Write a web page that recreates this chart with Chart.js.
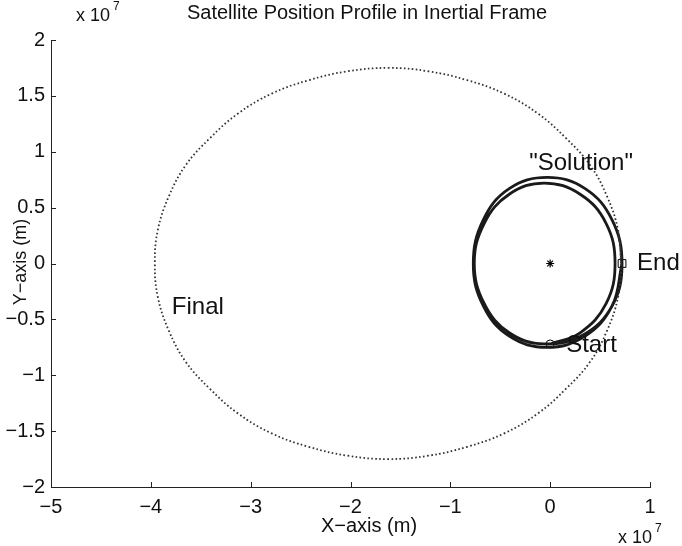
<!DOCTYPE html>
<html>
<head>
<meta charset="utf-8">
<script src="https://cdn.jsdelivr.net/npm/chart.js@4/dist/chart.umd.min.js"></script>
<style>
  html, body { margin: 0; padding: 0; background: #fff; }
  canvas { display: block; }
</style>
</head>
<body>
<canvas id="orbit" width="682" height="546"></canvas>
<script>
// All positions are in units of 10^7 m (inertial frame, Earth at origin).

// Target ("Final") orbit, traced once round plus one overlapping step
const finalX = [0.71, 0.68, 0.57, 0.40, 0.16, -0.12, -0.46, -0.83, -1.22, -1.62,
                -2.03, -2.42, -2.79, -3.13, -3.41, -3.65, -3.82, -3.93, -3.96,
                -3.93, -3.82, -3.65, -3.41, -3.13, -2.79, -2.42, -2.03, -1.62,
                -1.22, -0.83, -0.46, -0.12, 0.16, 0.40, 0.57, 0.68, 0.71, 0.68];
const finalY = [0.00, 0.30, 0.60, 0.88, 1.12, 1.34, 1.52, 1.64, 1.72, 1.75,
                1.72, 1.64, 1.52, 1.34, 1.12, 0.88, 0.60, 0.30, 0.00,
                -0.30, -0.60, -0.88, -1.12, -1.34, -1.52, -1.64, -1.72, -1.75,
                -1.72, -1.64, -1.52, -1.34, -1.12, -0.88, -0.60, -0.30, 0.00, 0.30];

// Computed "Solution" trajectory, from Start to End
const solX = [0.00, 0.30, 0.56, 0.65, 0.56, 0.30, -0.06, -0.41, -0.66, -0.76,
              -0.66, -0.41, -0.06, 0.33, 0.62, 0.72, 0.62, 0.35, -0.03, -0.41,
              -0.67, -0.77, -0.67, -0.41, -0.03, 0.35, 0.62, 0.72];
const solY = [-0.72, -0.62, -0.36, 0.00, 0.36, 0.62, 0.72, 0.62, 0.36, 0.00,
              -0.36, -0.62, -0.72, -0.64, -0.38, 0.00, 0.39, 0.67, 0.77, 0.67,
              0.39, 0.00, -0.38, -0.65, -0.75, -0.65, -0.38, 0.00];

const startPoint = [0.00, -0.72];
const endPoint = [0.72, 0.00];
const earthPoint = [0.00, 0.00];

const xTicks = [-5, -4, -3, -2, -1, 0, 1];
const yTicks = [-2, -1.5, -1, -0.5, 0, 0.5, 1, 1.5, 2];

const toPoints = (xs, ys) => xs.map((v, i) => ({ x: v, y: ys[i] }));
const fmt = v => (v < 0 ? '\u2212' : '') + String(Math.abs(v));

const FONT = '"Liberation Sans", Arial, Helvetica, sans-serif';

// Text annotations placed at data coordinates
const notes = [
  { text: '"Solution"', x: -0.21, y: 0.895 },
  { text: 'End', x: 0.87, y: 0.00 },
  { text: 'Start', x: 0.16, y: -0.73 },
  { text: 'Final', x: -3.79, y: -0.39 }
];

const decorations = {
  id: 'decorations',
  afterDraw(chart) {
    const { ctx, chartArea: a, scales: { x, y } } = chart;
    ctx.save();
    // inward tick marks
    ctx.strokeStyle = '#222';
    ctx.lineWidth = 1;
    ctx.beginPath();
    xTicks.forEach(v => {
      const px = Math.round(x.getPixelForValue(v)) + 0.5;
      ctx.moveTo(px, a.bottom);
      ctx.lineTo(px, a.bottom - 5);
    });
    yTicks.forEach(v => {
      const py = Math.round(y.getPixelForValue(v)) + 0.5;
      ctx.moveTo(a.left, py);
      ctx.lineTo(a.left + 5, py);
    });
    ctx.stroke();

    ctx.fillStyle = '#111';
    ctx.textBaseline = 'middle';
    ctx.textAlign = 'left';
    ctx.font = '24px ' + FONT;
    notes.forEach(n => {
      ctx.fillText(n.text, x.getPixelForValue(n.x), y.getPixelForValue(n.y));
    });

    // title
    ctx.textAlign = 'center';
    ctx.textBaseline = 'alphabetic';
    ctx.font = '20px ' + FONT;
    ctx.fillText('Satellite Position Profile in Inertial Frame', 367, 19);

    // axis titles
    ctx.fillText('X\u2212axis (m)', 369, 532);
    ctx.font = '18px ' + FONT;
    ctx.save();
    ctx.translate(26, 262);
    ctx.rotate(-Math.PI / 2);
    ctx.fillText('Y\u2212axis (m)', 0, 0);
    ctx.restore();

    // exponent markers
    ctx.textAlign = 'left';
    ctx.font = '18px ' + FONT;
    ctx.fillText('x 10', 76, 21);
    ctx.fillText('x 10', 618, 543);
    ctx.font = '12px ' + FONT;
    ctx.fillText('7', 113, 10);
    ctx.fillText('7', 655, 532);
    ctx.restore();
  }
};

new Chart(document.getElementById('orbit'), {
  type: 'scatter',
  data: {
    datasets: [
      {
        data: toPoints(finalX, finalY),
        showLine: true,
        borderColor: '#333',
        borderWidth: 1.8,
        borderDash: [1.6, 2.4],
        tension: 0.4,
        pointRadius: 0
      },
      {
        data: toPoints(solX, solY),
        showLine: true,
        borderColor: '#1a1a1a',
        borderWidth: 2.8,
        tension: 0.4,
        pointRadius: 0
      },
      {
        data: [{ x: earthPoint[0], y: earthPoint[1] }],
        pointStyle: 'star',
        pointRadius: 4,
        borderColor: '#000',
        borderWidth: 1.2
      },
      {
        data: [{ x: startPoint[0], y: startPoint[1] }],
        pointStyle: 'circle',
        pointRadius: 4,
        borderColor: '#000',
        backgroundColor: 'rgba(0,0,0,0)',
        borderWidth: 1
      },
      {
        data: [{ x: endPoint[0], y: endPoint[1] }],
        pointStyle: 'rect',
        pointRadius: 5.5,
        borderColor: '#000',
        backgroundColor: 'rgba(0,0,0,0)',
        borderWidth: 1
      }
    ]
  },
  options: {
    responsive: false,
    devicePixelRatio: 1,
    animation: false,
    layout: { padding: { left: 0, right: 32, top: 40, bottom: 0 } },
    plugins: { legend: { display: false }, tooltip: { enabled: false } },
    scales: {
      x: {
        type: 'linear', min: -5, max: 1,
        grid: { display: false, drawTicks: false },
        border: { display: true, color: '#222', width: 1 },
        afterBuildTicks: s => { s.ticks = xTicks.map(v => ({ value: v })); },
        afterFit: s => { s.height = 59; },
        ticks: { callback: v => fmt(v), color: '#111', padding: 8, maxRotation: 0, font: { family: FONT, size: 20 } }
      },
      y: {
        type: 'linear', min: -2, max: 2,
        grid: { display: false, drawTicks: false },
        border: { display: true, color: '#222', width: 1 },
        afterBuildTicks: s => { s.ticks = yTicks.map(v => ({ value: v })); },
        afterFit: s => { s.width = 51; },
        ticks: { callback: v => fmt(v), color: '#111', padding: 6, font: { family: FONT, size: 20 } }
      }
    }
  },
  plugins: [decorations]
});
</script>
</body>
</html>
